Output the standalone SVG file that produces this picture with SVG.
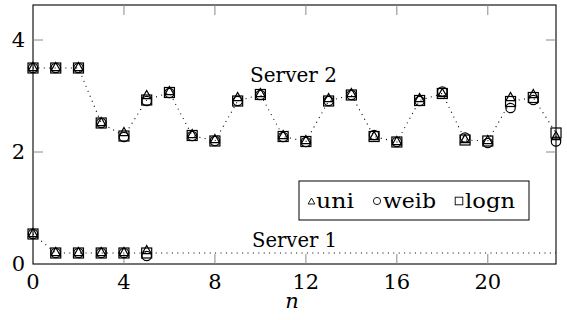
<svg xmlns="http://www.w3.org/2000/svg" width="567" height="320" viewBox="0 0 567 320">
<style>
text{font-family:"DejaVu Serif",serif;font-size:21px;fill:#000}
.tk{stroke:#888;stroke-width:1;fill:none}
.frame{stroke:#000;stroke-width:1.1;fill:none}
.dot{stroke:#000;stroke-width:1.1;fill:none;stroke-dasharray:1 4.4}
.m{stroke:#000;stroke-width:1.2;fill:none}
.lm{stroke:#000;stroke-width:0.9;fill:none}
</style>
<defs>
<path id="tri" class="m" d="M0,-5.5 L4.6,2.6 L-4.6,2.6 Z"/>
<circle id="cir" class="m" r="4.7"/>
<rect id="sq" class="m" x="-5" y="-5" width="10" height="10"/>
<path id="ltri" class="lm" d="M0,-4 L3.4,2 L-3.4,2 Z"/>
<circle id="lcir" class="lm" r="3.6"/>
<rect id="lsq" class="lm" x="-3.8" y="-3.8" width="7.6" height="7.6"/>
</defs>
<rect width="567" height="320" fill="#fff"/>
<g id="axis">
<rect class="frame" x="33" y="5" width="523" height="259"/>
<path class="tk" d="M123.96,264v-10M214.92,264v-10M305.88,264v-10M396.84,264v-10M487.8,264v-10M123.96,5v10M214.92,5v10M305.88,5v10M396.84,5v10M487.8,5v10M33,152h10M33,40h10M556,152h-10M556,40h-10"/>
<g text-anchor="middle">
<text x="33" y="289">0</text>
<text x="123.96" y="289">4</text>
<text x="214.92" y="289">8</text>
<text x="305.88" y="289">12</text>
<text x="396.84" y="289">16</text>
<text x="487.8" y="289">20</text>
</g>
<g text-anchor="end">
<text x="25" y="271">0</text>
<text x="25" y="159">2</text>
<text x="25" y="47">4</text>
</g>
<text x="292" y="308" text-anchor="middle" font-style="italic">n</text>
</g>
<g id="connectors">
<polyline class="dot" points="33,68 55.74,68 78.48,68 101.22,123 123.96,136 146.7,100 169.44,92.5 192.18,135.5 214.92,141 237.66,101 260.4,94.5 283.14,136.5 305.88,141.5 328.62,101 351.36,95 374.1,136.5 396.84,142 419.58,100.5 442.32,93.5 465.06,140 487.8,141 510.54,101.5 533.28,97.5 556.02,133"/>
<polyline class="dot" points="33,234 55.74,253 556,253"/>
</g>
<g id="server2-uni">
<use href="#tri" x="33" y="68"/><use href="#tri" x="55.74" y="68"/><use href="#tri" x="78.48" y="68"/><use href="#tri" x="101.22" y="123"/><use href="#tri" x="123.96" y="133"/><use href="#tri" x="146.7" y="96"/><use href="#tri" x="169.44" y="92"/><use href="#tri" x="192.18" y="135"/><use href="#tri" x="214.92" y="140"/><use href="#tri" x="237.66" y="98"/><use href="#tri" x="260.4" y="94"/><use href="#tri" x="283.14" y="136"/><use href="#tri" x="305.88" y="141"/><use href="#tri" x="328.62" y="99"/><use href="#tri" x="351.36" y="94"/><use href="#tri" x="374.1" y="137"/><use href="#tri" x="396.84" y="142"/><use href="#tri" x="419.58" y="99"/><use href="#tri" x="442.32" y="94"/><use href="#tri" x="465.06" y="140"/><use href="#tri" x="487.8" y="141"/><use href="#tri" x="510.54" y="98"/><use href="#tri" x="533.28" y="95"/><use href="#tri" x="556.02" y="137"/>
</g>
<g id="server2-weib">
<use href="#cir" x="33" y="68"/><use href="#cir" x="55.74" y="68"/><use href="#cir" x="78.48" y="68"/><use href="#cir" x="101.22" y="123"/><use href="#cir" x="123.96" y="137"/><use href="#cir" x="146.7" y="101"/><use href="#cir" x="169.44" y="93"/><use href="#cir" x="192.18" y="136"/><use href="#cir" x="214.92" y="141"/><use href="#cir" x="237.66" y="101"/><use href="#cir" x="260.4" y="95"/><use href="#cir" x="283.14" y="137"/><use href="#cir" x="305.88" y="142"/><use href="#cir" x="328.62" y="101"/><use href="#cir" x="351.36" y="95"/><use href="#cir" x="374.1" y="135"/><use href="#cir" x="396.84" y="142"/><use href="#cir" x="419.58" y="101"/><use href="#cir" x="442.32" y="91.5"/><use href="#cir" x="465.06" y="137.5"/><use href="#cir" x="487.8" y="143"/><use href="#cir" x="510.54" y="108"/><use href="#cir" x="533.28" y="100"/><use href="#cir" x="556.02" y="141.5"/>
</g>
<g id="server2-logn">
<use href="#sq" x="33" y="68"/><use href="#sq" x="55.74" y="68"/><use href="#sq" x="78.48" y="68"/><use href="#sq" x="101.22" y="123"/><use href="#sq" x="123.96" y="136"/><use href="#sq" x="146.7" y="100"/><use href="#sq" x="169.44" y="92.5"/><use href="#sq" x="192.18" y="135.5"/><use href="#sq" x="214.92" y="141"/><use href="#sq" x="237.66" y="101"/><use href="#sq" x="260.4" y="94.5"/><use href="#sq" x="283.14" y="136.5"/><use href="#sq" x="305.88" y="141.5"/><use href="#sq" x="328.62" y="101"/><use href="#sq" x="351.36" y="95"/><use href="#sq" x="374.1" y="136.5"/><use href="#sq" x="396.84" y="142"/><use href="#sq" x="419.58" y="100.5"/><use href="#sq" x="442.32" y="93.5"/><use href="#sq" x="465.06" y="140"/><use href="#sq" x="487.8" y="141"/><use href="#sq" x="510.54" y="101.5"/><use href="#sq" x="533.28" y="97.5"/><use href="#sq" x="556.02" y="133"/>
</g>
<g id="server1-uni">
<use href="#tri" x="33" y="234"/><use href="#tri" x="55.74" y="253"/><use href="#tri" x="78.48" y="253"/><use href="#tri" x="101.22" y="253"/><use href="#tri" x="123.96" y="253"/><use href="#tri" x="146.7" y="251"/>
</g>
<g id="server1-weib">
<use href="#cir" x="33" y="234"/><use href="#cir" x="55.74" y="253"/><use href="#cir" x="78.48" y="253"/><use href="#cir" x="101.22" y="253"/><use href="#cir" x="123.96" y="253"/><use href="#cir" x="146.7" y="256"/>
</g>
<g id="server1-logn">
<use href="#sq" x="33" y="234"/><use href="#sq" x="55.74" y="253"/><use href="#sq" x="78.48" y="253"/><use href="#sq" x="101.22" y="253"/><use href="#sq" x="123.96" y="253"/><use href="#sq" x="146.7" y="253"/>
</g>
<g id="label-server2"><text x="250" y="82" textLength="87" lengthAdjust="spacingAndGlyphs">Server 2</text></g>
<g id="label-server1"><text x="252" y="247" textLength="85" lengthAdjust="spacingAndGlyphs">Server 1</text></g>
<g id="legend">
<rect x="299" y="181" width="230" height="39" fill="#fff" stroke="#000" stroke-width="1"/>
<use href="#ltri" x="311.5" y="202"/>
<text x="316" y="208" textLength="38" lengthAdjust="spacingAndGlyphs">uni</text>
<use href="#lcir" x="377" y="201"/>
<text x="383" y="208" textLength="53" lengthAdjust="spacingAndGlyphs">weib</text>
<use href="#lsq" x="459" y="201"/>
<text x="465" y="208" textLength="50" lengthAdjust="spacingAndGlyphs">logn</text>
</g>
</svg>
